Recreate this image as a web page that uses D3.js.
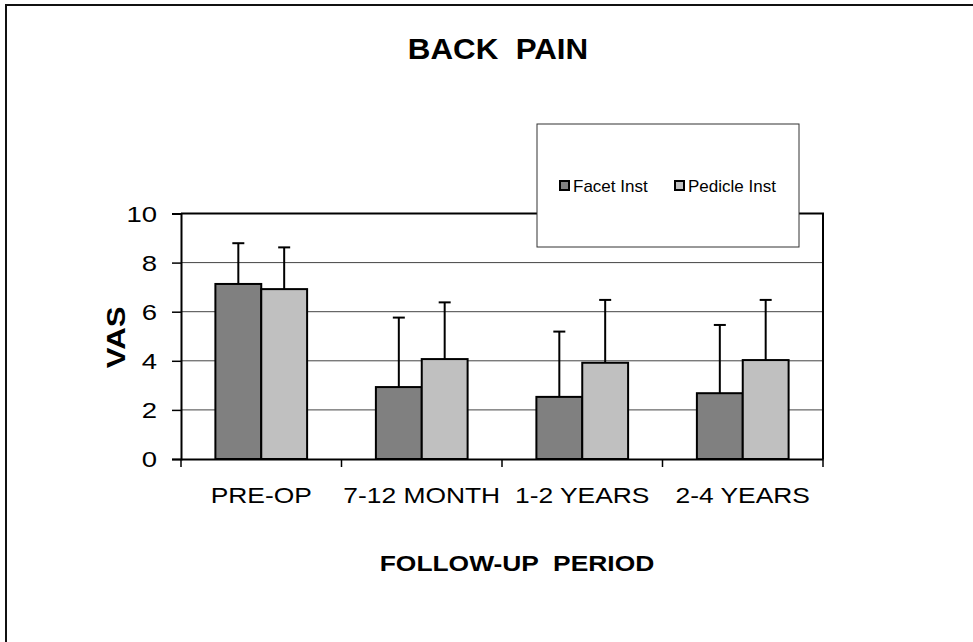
<!DOCTYPE html>
<html>
<head>
<meta charset="utf-8">
<script src="https://cdn.jsdelivr.net/npm/d3@7"></script>
<style>
  body { margin: 0; background: #fff; }
  svg { display: block; font-family: "Liberation Sans", Arial, sans-serif; }
</style>
</head>
<body>
<svg id="chart" width="973" height="642"></svg>
<script>
// data
var periods = ["PRE-OP", "7-12 MONTH", "1-2 YEARS", "2-4 YEARS"];
var seriesNames = ["Facet Inst", "Pedicle Inst"];
var facetMean = [7.13, 2.93, 2.53, 2.68];
var facetSD = [1.66, 2.83, 2.66, 2.78];
var pedicleMean = [6.92, 4.07, 3.92, 4.03];
var pedicleSD = [1.70, 2.31, 2.56, 2.45];
var yTicks = [0, 2, 4, 6, 8, 10];

var colors = { "Facet Inst": "#808080", "Pedicle Inst": "#c0c0c0" };
var WIDE = 1.25; // the original text is drawn wider than Arial

var rows = [];
periods.forEach(function(p, i) {
    rows.push({ period: p, series: "Facet Inst", mean: facetMean[i], sd: facetSD[i] });
    rows.push({ period: p, series: "Pedicle Inst", mean: pedicleMean[i], sd: pedicleSD[i] });
});

var svg = d3.select("#chart");

var plot = { left: 181, right: 823, top: 213.5, bottom: 459 };

var x = d3.scaleBand().domain(periods).range([plot.left, plot.right]);
var xs = d3.scaleBand().domain(seriesNames).range([0, x.bandwidth()]).paddingOuter(0.75);
var y = d3.scaleLinear().domain([0, 10]).range([plot.bottom, plot.top]);

function label(tx, ty, str, size, bold, anchor, sx, rot) {
    var t = "translate(" + tx + "," + ty + ")";
    if (rot) t += " rotate(" + rot + ")";
    t += " scale(" + sx + ",1)";
    return svg.append("text")
        .attr("transform", t)
        .attr("text-anchor", anchor)
        .style("font-size", size + "px")
        .style("font-weight", bold ? "bold" : "normal")
        .style("white-space", "pre")
        .attr("fill", "#000")
        .text(str);
}

// outer frame (right and bottom edges fall outside the picture)
svg.append("rect")
    .attr("x", 6).attr("y", 5)
    .attr("width", 1200).attr("height", 1000)
    .attr("fill", "none").attr("stroke", "#111").attr("stroke-width", 2);

label(498, 59, "BACK  PAIN", 29, true, "middle", 1.08);

// gridlines
svg.append("g").selectAll("line")
    .data(yTicks.filter(function(d) { return d > 0 && d < 10; }))
    .enter().append("line")
    .attr("x1", plot.left).attr("x2", plot.right)
    .attr("y1", function(d) { return y(d); })
    .attr("y2", function(d) { return y(d); })
    .attr("stroke", "#444").attr("stroke-width", 1);

// plot area top & right border
svg.append("path")
    .attr("d", "M" + plot.left + "," + y(10) + "H" + plot.right + "V" + y(0))
    .attr("fill", "none").attr("stroke", "#000").attr("stroke-width", 2);

// y axis
var yAxis = svg.append("g")
    .attr("transform", "translate(" + plot.left + ",0)")
    .call(d3.axisLeft(y).tickValues(yTicks).tickSize(9).tickFormat(""));
yAxis.select(".domain").attr("stroke", "#000").attr("stroke-width", 2);
yAxis.selectAll(".tick line").attr("stroke", "#000").attr("stroke-width", 1.5);
yTicks.forEach(function(v) {
    label(157, y(v) + 8, String(v), 22, false, "end", WIDE);
});

// x axis
var xAxis = svg.append("g")
    .attr("transform", "translate(0," + plot.bottom + ")")
    .call(d3.axisBottom(x).tickSize(0).tickFormat(""));
xAxis.select(".domain").attr("stroke", "#000").attr("stroke-width", 2);
periods.forEach(function(p) {
    label(x(p) + x.bandwidth() / 2, 503, p, 22, false, "middle", 1.2);
});
// category separators
var edges = periods.map(function(p) { return x(p); }).concat([plot.right]);
svg.append("g").selectAll("line")
    .data(edges)
    .enter().append("line")
    .attr("x1", function(d) { return d; }).attr("x2", function(d) { return d; })
    .attr("y1", plot.bottom).attr("y2", plot.bottom + 8)
    .attr("stroke", "#000").attr("stroke-width", 1.5);

// bars
svg.append("g").selectAll("rect")
    .data(rows)
    .enter().append("rect")
    .attr("x", function(d) { return x(d.period) + xs(d.series); })
    .attr("y", function(d) { return y(d.mean); })
    .attr("width", xs.bandwidth())
    .attr("height", function(d) { return y(0) - y(d.mean); })
    .attr("fill", function(d) { return colors[d.series]; })
    .attr("stroke", "#000").attr("stroke-width", 2);

// error bars (upper only)
function cx(d) { return x(d.period) + xs(d.series) + xs.bandwidth() / 2; }
var err = svg.append("g").selectAll("g")
    .data(rows)
    .enter().append("g")
    .attr("stroke", "#000").attr("stroke-width", 2);
err.append("line")
    .attr("x1", cx).attr("x2", cx)
    .attr("y1", function(d) { return y(d.mean); })
    .attr("y2", function(d) { return y(d.mean + d.sd); });
err.append("line")
    .attr("x1", function(d) { return cx(d) - 6; })
    .attr("x2", function(d) { return cx(d) + 6; })
    .attr("y1", function(d) { return y(d.mean + d.sd); })
    .attr("y2", function(d) { return y(d.mean + d.sd); });

// axis titles
label(125, (plot.top + plot.bottom) / 2 + 1, "VAS", 25, true, "middle", WIDE, -90);
label(517, 571, "FOLLOW-UP  PERIOD", 22, true, "middle", 1.2);

// legend
var legend = svg.append("g");
legend.append("rect")
    .attr("x", 537).attr("y", 124).attr("width", 262).attr("height", 123)
    .attr("fill", "#fff").attr("stroke", "#333").attr("stroke-width", 1);
var litem = legend.selectAll("g.item")
    .data(seriesNames)
    .enter().append("g")
    .attr("class", "item")
    .attr("transform", function(d, i) { return "translate(" + (560 + i * 115) + ",181)"; });
litem.append("rect")
    .attr("width", 9).attr("height", 9)
    .attr("fill", function(d) { return colors[d]; })
    .attr("stroke", "#000").attr("stroke-width", 2);
litem.append("text")
    .attr("x", 13).attr("y", 11)
    .style("font-size", "17px")
    .text(function(d) { return d; });
</script>
</body>
</html>
